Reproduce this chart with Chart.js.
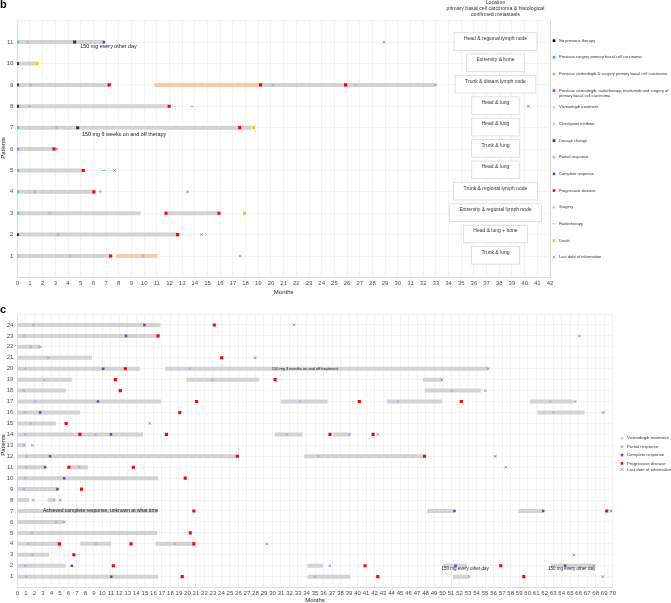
<!DOCTYPE html>
<html>
<head>
<meta charset="utf-8">
<script src="https://cdn.jsdelivr.net/npm/chart.js@4.4.0/dist/chart.umd.min.js"></script>
<style>
  body { margin: 0; background: #fff; width: 671px; height: 603px; overflow: hidden; position: relative; }
  canvas { position: absolute; left: 0; }
  #chartB { top: 0; }
  #chartC { top: 300px; }
</style>
</head>
<body>
<canvas id="chartB" width="671" height="300" style="width:671px;height:300px"></canvas>
<canvas id="chartC" width="671" height="303" style="width:671px;height:303px"></canvas>
<script>
// ---------- panel b data (patient, month) ----------
const bPatients = [1, 2, 3, 4, 5, 6, 7, 8, 9, 10, 11];
const bLocations = ['Trunk & lung', 'Head & lung + bone', 'Extremity & regional lymph node',
  'Trunk & regional lymph node', 'Head & lung', 'Trunk & lung', 'Head & lung', 'Head & lung',
  'Trunk & distant lymph node', 'Extremity & bone', 'Head & regional lymph node'];
const bNoPrevious = [[2, 0], [8, 0], [9, 0], [10, 0]];
const bPrevSurgery = [[3, 0], [4, 0], [5, 0], [7, 0], [11, 0]];
const bPrevVismoSurgery = [[1, 0]];
const bPrevMulti = [[6, 0]];
// segments: patient, start, end
const bVismodegib = [[11, 0, 6.83], [10, 0, 1.58], [9, 0, 7.25], [9, 19.18, 32.97], [8, 0, 11.98],
  [7, 0, 18.47], [6, 0, 3.1], [5, 0, 5.2], [4, 0, 6.04], [3, 0, 9.72], [3, 11.72, 15.9],
  [2, 0, 12.64], [1, 0, 7.36]];
const bCheckpoint = [[9, 10.8, 19.18], [1, 7.78, 11.03]];
const bDosage = [[11, 4.52], [7, 4.76]];
const bPartial = [[11, 0.84], [9, 1.06], [9, 20.17], [8, 0.95], [7, 3.05], [4, 1.37], [3, 2.52],
  [2, 3.21], [1, 4.15], [1, 9.88]];
const bComplete = [[11, 6.83]];
const bProgression = [[9, 7.25], [9, 19.18], [9, 25.88], [8, 11.98], [7, 17.53], [6, 2.89],
  [5, 5.2], [4, 6.04], [3, 11.72], [3, 15.9], [2, 12.64], [1, 7.36]];
const bSurgery = [[4, 6.54]];
const bRadiotherapy = [[9, 26.69], [8, 13.79], [5, 6.83]];
const bDeath = [[10, 1.58], [7, 18.63], [3, 17.92]];
const bLastInfo = [[11, 28.9], [9, 32.97], [8, 40.3], [6, 3.1], [5, 7.67], [4, 13.43],
  [2, 14.53], [1, 17.57]];
const bNotes = [[10.77, 7.19, '150 mg every other day'], [6.68, 8.42, '150 mg 6 weeks on and off therapy']];

// ---------- panel c data ----------
const cVismodegib = [[24, 0, 16.83], [23, 0, 16.52], [22, 0, 2.68], [21, 0, 8.77],
  [20, 0, 14.39], [20, 17.38, 55.35],
  [19, 0, 6.41], [19, 19.9, 28.47], [19, 47.69, 49.93],
  [18, 0, 5.7], [18, 47.9, 54.56],
  [17, 0, 16.9], [17, 30.98, 36.49], [17, 43.44, 49.93], [17, 60.3, 65.3],
  [16, 0, 7.39], [16, 61.17, 66.67],
  [15, 0, 4.53],
  [14, 0, 14.78], [14, 30.3, 33.54], [14, 37.11, 39.23],
  [13, 0, 1.03],
  [12, 0, 25.87], [12, 33.73, 47.88],
  [11, 0, 3.27], [11, 6.06, 8.3],
  [10, 0, 16.56], [9, 0, 4.72],
  [8, 0, 1.38], [8, 3.58, 4.45],
  [7, 0, 16.43], [7, 48.2, 51.4], [7, 58.9, 61.84],
  [6, 0, 5.43], [5, 0, 16.43],
  [4, 0, 4.95], [4, 7.39, 11.05], [4, 16.24, 20.76],
  [3, 0, 3.74],
  [2, 0, 5.7], [2, 34.13, 35.9], [2, 50.04, 52.87], [2, 62.7, 67.74],
  [1, 0, 16.56], [1, 34.13, 39.15], [1, 51.23, 53.11]];
const cPartial = [[24, 1.89], [23, 0.79], [22, 1.58], [21, 3.66], [20, 0.91], [20, 20.28],
  [19, 3.15], [19, 22.92], [18, 0.79], [18, 51.1], [17, 2.09], [17, 33.26], [17, 44.74],
  [17, 62.7], [16, 0.91], [16, 63.0], [15, 1.58], [14, 0.91], [14, 9.2], [14, 31.69],
  [14, 39.04], [13, 0.79], [12, 1.1], [12, 35.38], [11, 1.03], [11, 7.28], [10, 0.91],
  [9, 0.79], [8, 1.89], [8, 4.33], [6, 4.56], [5, 1.7], [4, 1.3], [4, 9.24], [4, 18.48],
  [3, 1.77], [2, 0.91], [2, 36.72], [1, 1.03], [1, 34.99], [1, 53.11]];
const cComplete = [[24, 14.94], [23, 12.78], [20, 10.1], [17, 9.48], [16, 2.68], [14, 11.01],
  [12, 3.86], [11, 3.27], [10, 5.51], [9, 4.72], [7, 51.4], [7, 61.84], [2, 6.41],
  [2, 51.53], [2, 64.4], [1, 11.05]];
const cProgression = [[24, 23.16], [23, 16.55], [21, 24.02], [20, 12.7], [19, 11.52], [19, 30.3],
  [18, 12.11], [17, 21.07], [17, 40.21], [17, 52.2], [16, 19.1], [15, 5.74], [14, 7.36],
  [14, 17.53], [14, 36.76], [14, 41.83], [12, 25.87], [12, 47.88], [11, 6.06], [11, 13.64],
  [10, 19.74], [9, 7.55], [7, 20.76], [7, 69.3], [5, 20.33], [4, 4.95], [4, 13.37],
  [4, 20.76], [3, 6.65], [2, 11.29], [2, 40.88], [2, 56.84], [1, 19.39], [1, 42.38], [1, 59.55]];
const cLastInfo = [[24, 32.55], [23, 66.1], [22, 2.71], [21, 27.95], [20, 55.35], [19, 49.93],
  [18, 55.03], [17, 65.57], [16, 68.87], [15, 15.57], [14, 42.38], [13, 1.77], [12, 56.18],
  [11, 57.43], [8, 5.04], [7, 69.78], [6, 5.51], [4, 29.33], [3, 65.45], [2, 67.8], [1, 68.83]];
const cNotes = [[20, 33.8, '150 mg 3 months on and off treatment'],
  [7, 9.8, 'Achieved complete response, unknown at what time'],
  [1.7, 52.65, '150 mg every other day'], [1.7, 65.18, '150 mg every other day']];

// ---------- colours ----------
const GREY = '#d3d3d3', PEACH = '#f8cba8', RED = '#ff0000', LILAC = '#c9a9ec', PURPLE = '#7a3cc4';
const CYAN = '#1cb4ea', LIME = '#8fd14f', MAGENTA = '#ff00ff', TAN = '#d2a64c', TEAL = '#3cc79a';
const GOLD = '#ffc000', CROSS = '#808080';
const FONT = '"Liberation Sans", Arial, sans-serif';

function segData(segs) {
  const d = [];
  segs.forEach(([p, s, e]) => { d.push({ x: s, y: p }, { x: e, y: p }, { x: e, y: null }); });
  return d;
}
function ptData(pts) { return pts.map(([p, m]) => ({ x: m, y: p })); }

function barSet(segs, color) {
  return { data: segData(segs), showLine: true, borderColor: color, borderWidth: 4,
    borderCapStyle: 'butt', pointRadius: 0, pointHoverRadius: 0, spanGaps: false, order: 10 };
}
function markSet(pts, color, style, r) {
  const line = style === 'crossRot' || style === 'cross' || style === 'line';
  return { data: ptData(pts), pointStyle: style, pointRadius: r, pointHoverRadius: r,
    backgroundColor: color, borderColor: color, borderWidth: line ? 0.8 : 0, order: 1 };
}

function drawMarker(ctx, shape, color, x, y) {
  ctx.save();
  ctx.fillStyle = color; ctx.strokeStyle = color; ctx.lineWidth = 0.7;
  if (shape === 'x') {
    ctx.beginPath(); ctx.moveTo(x - 1.4, y - 1.4); ctx.lineTo(x + 1.4, y + 1.4);
    ctx.moveTo(x + 1.4, y - 1.4); ctx.lineTo(x - 1.4, y + 1.4); ctx.stroke();
  } else if (shape === '+') {
    ctx.beginPath(); ctx.moveTo(x - 1.6, y); ctx.lineTo(x + 1.6, y);
    ctx.moveTo(x, y - 1.6); ctx.lineTo(x, y + 1.6); ctx.stroke();
  } else if (shape === '-') {
    ctx.beginPath(); ctx.moveTo(x - 1.6, y); ctx.lineTo(x + 1.6, y); ctx.stroke();
  } else {
    ctx.fillRect(x - 1.3, y - 1.3, 2.6, 2.6);
  }
  ctx.restore();
}

function axisTitles(ctx, chart, yCenter, below) {
  const a = chart.chartArea;
  ctx.save();
  ctx.fillStyle = '#222';
  ctx.font = '6px ' + FONT;
  ctx.textAlign = 'center'; ctx.textBaseline = 'middle';
  ctx.fillText('Months', (a.left + a.right) / 2, a.bottom + below);
  ctx.translate(3, yCenter); ctx.rotate(-Math.PI / 2);
  ctx.fillText('Patients', 0, 0);
  ctx.restore();
}

function scalesFor(maxX, maxY, lastRow, yWidth, xHeight, edgeColor) {
  return {
    x: {
      type: 'linear', min: 0, max: maxX,
      ticks: { stepSize: 1, autoSkip: false, maxRotation: 0, padding: 2, color: '#4d4d4d',
        font: { size: 6, family: FONT } },
      grid: { color: c => (c.tick && c.tick.value === maxX) ? edgeColor : '#ebebeb',
        lineWidth: 0.6, drawTicks: false },
      border: { color: '#d0d0d0', width: 0.6 },
      afterFit: s => { s.height = xHeight; }
    },
    y: {
      type: 'linear', min: 0, max: maxY,
      ticks: { stepSize: 1, padding: 4, color: '#4d4d4d', font: { size: 6, family: FONT },
        callback: v => (v >= 1 && v <= lastRow) ? v : '' },
      grid: { color: '#ebebeb', lineWidth: 0.6, drawTicks: false },
      border: { color: '#d0d0d0', width: 0.6 },
      afterFit: s => { s.width = yWidth; }
    }
  };
}

// ---------- panel b ----------
const legendB = [
  ['No previous therapy', '#000000', 'sq'],
  ['Previous surgery primary basal cell carcinoma', CYAN, 'sq'],
  ['Previous vismodegib & surgery primary basal cell carcinoma', LIME, 'sq'],
  ['Previous vismodegib, radiotherapy, nivolumab and surgery of\nprimary basal cell carcinoma', MAGENTA, 'sq'],
  ['Vismodegib treatment', GREY, 'sq'],
  ['Checkpoint inhibitor', PEACH, 'sq'],
  ['Dosage change', '#333333', 'sq'],
  ['Partial response', LILAC, 'sq'],
  ['Complete response', PURPLE, 'sq'],
  ['Progressive disease', RED, 'sq'],
  ['Surgery', TAN, '+'],
  ['Radiotherapy', TEAL, '-'],
  ['Death', GOLD, 'sq'],
  ['Last date of information', CROSS, 'x']
];

const extrasB = {
  id: 'extrasB',
  afterDatasetsDraw(chart) {
    const { ctx, scales: { x, y } } = chart;
    ctx.save();
    ctx.textAlign = 'center'; ctx.textBaseline = 'middle';
    ctx.font = '5.4px ' + FONT; ctx.fillStyle = '#222';
    bNotes.forEach(([p, m, t]) => ctx.fillText(t, x.getPixelForValue(m), y.getPixelForValue(p)));
    // location boxes
    ctx.font = '5px ' + FONT;
    bPatients.forEach((p, i) => {
      const t = bLocations[i];
      const w = ctx.measureText(t).width + 20;
      const cx = x.getPixelForValue(37.7), cy = y.getPixelForValue(p);
      ctx.fillStyle = '#ffffff';
      ctx.fillRect(cx - w / 2, cy - 9.4, w, 17.6);
      ctx.strokeStyle = '#d9d9d9'; ctx.lineWidth = 0.8;
      ctx.strokeRect(cx - w / 2, cy - 9.4, w, 17.6);
      ctx.fillStyle = '#333';
      ctx.fillText(t, cx, cy - 3.7);
    });
    ctx.restore();
  },
  afterDraw(chart) {
    const { ctx, scales: { x } } = chart;
    ctx.save();
    ctx.fillStyle = '#000'; ctx.font = 'bold 11px ' + FONT;
    ctx.textBaseline = 'top'; ctx.textAlign = 'left';
    ctx.fillText('b', 0, -1);
    ctx.font = '5.2px ' + FONT; ctx.fillStyle = '#333'; ctx.textAlign = 'center'; ctx.textBaseline = 'middle';
    const hx = x.getPixelForValue(37.7);
    ['Location', 'primary basal cell carcinoma & histological', 'confirmed metastasis']
      .forEach((t, i) => ctx.fillText(t, hx, 2.6 + i * 5.8));
    ctx.textAlign = 'left';
    ctx.font = '4.05px ' + FONT;
    legendB.forEach(([label, color, shape], i) => {
      const ly = 40.7 + i * 16.65;
      drawMarker(ctx, shape, color, 554, ly);
      label.split('\n').forEach((ln, k) => ctx.fillText(ln, 559, ly + k * 5.2));
    });
    ctx.restore();
    axisTitles(ctx, chart, 148, 15);
  }
};

new Chart(document.getElementById('chartB'), {
  type: 'scatter',
  data: {
    datasets: [
      barSet(bVismodegib, GREY),
      barSet(bCheckpoint, PEACH),
      markSet(bPartial, LILAC, 'rect', 1.9),
      markSet(bComplete, PURPLE, 'rect', 1.9),
      markSet(bDosage, '#333333', 'rect', 2.1),
      markSet(bNoPrevious, '#000000', 'rect', 2.0),
      markSet(bPrevSurgery, CYAN, 'rect', 2.0),
      markSet(bPrevVismoSurgery, LIME, 'rect', 2.0),
      markSet(bPrevMulti, MAGENTA, 'rect', 2.0),
      markSet(bSurgery, TAN, 'cross', 1.8),
      markSet(bRadiotherapy, TEAL, 'line', 1.8),
      markSet(bLastInfo, CROSS, 'crossRot', 1.8),
      markSet(bDeath, GOLD, 'rect', 2.0),
      markSet(bProgression, RED, 'rect', 2.2)
    ]
  },
  options: {
    responsive: false, animation: false, events: [],
    layout: { padding: { top: 20.7, right: 121, left: 0, bottom: 0 } },
    plugins: { legend: { display: false }, tooltip: { enabled: false } },
    scales: scalesFor(42, 12, 11, 17.3, 22.6, '#bdbdbd')
  },
  plugins: [extrasB]
});

// ---------- panel c ----------
const legendC = [
  ['Vismodegib treatment', GREY, 'sq', 138.3],
  ['Partial response', LILAC, 'sq', 146.7],
  ['Complete response', PURPLE, 'sq', 155.1],
  ['Progressive disease', RED, 'sq', 163.4],
  ['Last date of information', CROSS, 'x', 169.4]
];
const noteSizesC = [3.9, 5, 4.5, 4.5];

const extrasC = {
  id: 'extrasC',
  afterDatasetsDraw(chart) {
    const { ctx, scales: { x, y } } = chart;
    ctx.save();
    ctx.textAlign = 'center'; ctx.textBaseline = 'middle'; ctx.fillStyle = '#222';
    cNotes.forEach(([p, m, t], i) => {
      ctx.font = noteSizesC[i] + 'px ' + FONT;
      ctx.fillText(t, x.getPixelForValue(m), y.getPixelForValue(p));
    });
    ctx.restore();
  },
  afterDraw(chart) {
    const { ctx } = chart;
    ctx.save();
    ctx.fillStyle = '#000'; ctx.font = 'bold 11px ' + FONT;
    ctx.textBaseline = 'top'; ctx.textAlign = 'left';
    ctx.fillText('c', 0, 4);
    ctx.font = '4.3px ' + FONT; ctx.fillStyle = '#333'; ctx.textBaseline = 'middle';
    legendC.forEach(([label, color, shape, ly]) => {
      drawMarker(ctx, shape, color, 622, ly);
      ctx.fillText(label, 627, ly);
    });
    ctx.restore();
    axisTitles(ctx, chart, 145, 12.5);
  }
};

new Chart(document.getElementById('chartC'), {
  type: 'scatter',
  data: {
    datasets: [
      barSet(cVismodegib, GREY),
      markSet(cPartial, LILAC, 'rect', 1.8),
      markSet(cComplete, PURPLE, 'rect', 1.8),
      markSet(cLastInfo, CROSS, 'crossRot', 1.8),
      markSet(cProgression, RED, 'rect', 2.2)
    ]
  },
  options: {
    responsive: false, animation: false, events: [],
    layout: { padding: { top: 14, right: 58.3, left: 0, bottom: 0 } },
    plugins: { legend: { display: false }, tooltip: { enabled: false } },
    scales: scalesFor(70, 25, 24, 17.3, 15.4, '#ebebeb')
  },
  plugins: [extrasC]
});
</script>
</body>
</html>
